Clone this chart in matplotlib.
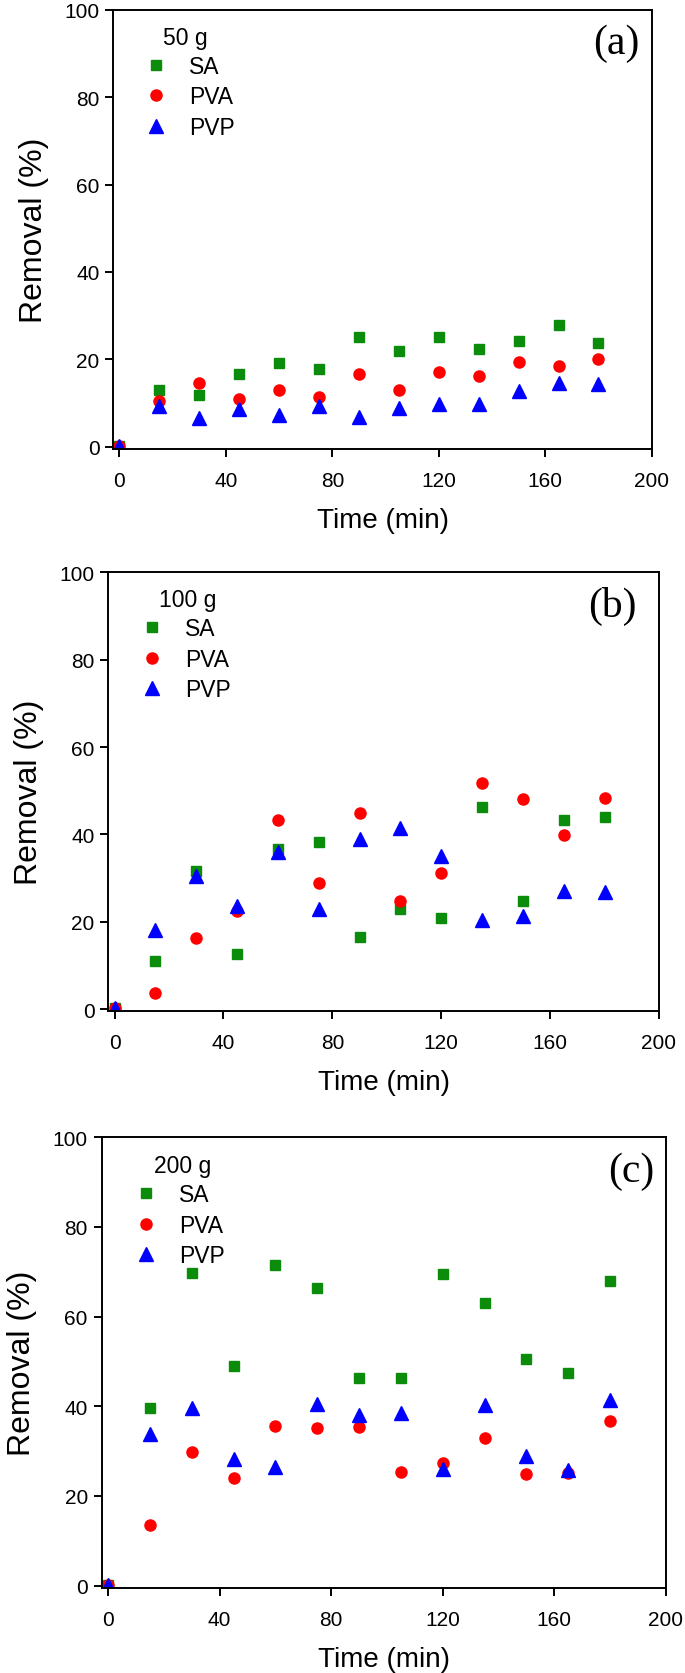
import matplotlib
matplotlib.use("Agg")
import matplotlib.pyplot as plt

plt.rcParams["font.family"] = ["Liberation Sans", "DejaVu Sans"]

# sampling times (min)
time = [0, 15, 30, 45, 60, 75, 90, 105, 120, 135, 150, 165, 180]

# panel (a) 50 g
sa_50 = [0.2, 12.9, 11.8, 16.6, 19.2, 17.9, 25.2, 22.0, 25.1, 22.3, 24.1, 27.9, 23.8]
pva_50 = [0.2, 10.4, 14.7, 10.9, 13.0, 11.4, 16.7, 13.0, 17.2, 16.3, 19.3, 18.4, 20.1]
pvp_50 = [0.2, 9.4, 6.5, 8.6, 7.3, 9.4, 6.9, 8.8, 9.7, 9.7, 12.7, 14.7, 14.3]

# panel (b) 100 g
sa_100 = [0.2, 11.1, 31.6, 12.7, 36.7, 38.2, 16.6, 23.0, 20.8, 46.3, 24.8, 43.4, 44.0]
pva_100 = [0.2, 3.6, 16.2, 22.5, 43.3, 28.8, 45.0, 24.8, 31.1, 51.8, 48.0, 39.9, 48.3]
pvp_100 = [0.2, 18.2, 30.5, 23.7, 36.0, 22.9, 39.0, 41.4, 35.1, 20.5, 21.3, 27.0, 26.7]

# panel (c) 200 g
sa_200 = [0.2, 39.6, 69.8, 49.0, 71.6, 66.4, 46.2, 46.2, 69.4, 63.1, 50.5, 47.5, 67.9]
pva_200 = [0.2, 13.6, 29.9, 23.9, 35.7, 35.2, 35.3, 25.3, 27.3, 33.0, 24.8, 25.0, 36.8]
pvp_200 = [0.2, 33.9, 39.7, 28.3, 26.4, 40.5, 38.1, 38.6, 26.0, 40.2, 28.9, 25.8, 41.5]

doses = ["50 g", "100 g", "200 g"]
letters = ["(a)", "(b)", "(c)"]
series = [
    (sa_50, pva_50, pvp_50),
    (sa_100, pva_100, pvp_100),
    (sa_200, pva_200, pvp_200),
]

boxes = [
    [0.1654, 0.7312, 0.7860, 0.2624],
    [0.1581, 0.3953, 0.8039, 0.2622],
    [0.1485, 0.0509, 0.8234, 0.2691],
]
letter_x = [0.934, 0.915, 0.938]

green = "#0b8c0b"
red = "#ff0000"
blue = "#0000ff"

fig = plt.figure(figsize=(6.85, 16.74), dpi=100)

for i in range(3):
    ax = fig.add_axes(boxes[i])
    sa, pva, pvp = series[i]
    ax.plot(time, sa, ls="none", marker="s", ms=7.3, color=green, label="SA")
    ax.plot(time, pva, ls="none", marker="o", ms=8, color=red, label="PVA")
    ax.plot(time, pvp, ls="none", marker="^", ms=9.5, color=blue, label="PVP")

    ax.set_xlim(-2.3, 200)
    ax.set_ylim(-0.5, 100)
    ax.set_xticks([0, 40, 80, 120, 160, 200])
    ax.set_yticks([0, 20, 40, 60, 80, 100])
    ax.tick_params(direction="out", length=6, width=1.4, labelsize=15,
                   top=False, right=False)
    ax.tick_params(axis="x", pad=10)
    ax.tick_params(axis="y", pad=4)
    for sp in ax.spines.values():
        sp.set_linewidth(1.4)

    ax.set_xlabel("Time (min)", fontsize=20, labelpad=12)
    ax.set_ylabel("Removal (%)", fontsize=23, labelpad=11)

    ax.text(0.092, 0.937, doses[i], transform=ax.transAxes,
            ha="left", va="center", fontsize=16.5)
    ax.legend(loc="upper left", bbox_to_anchor=(0.05, 0.908),
              frameon=False, fontsize=16.5, borderaxespad=0,
              handlelength=1.0, handletextpad=0.93, labelspacing=0.33,
              borderpad=0.2)

    ax.text(letter_x[i], 0.925, letters[i], transform=ax.transAxes,
            ha="center", va="center", fontsize=30,
            family=["Liberation Serif", "DejaVu Serif"])

fig.savefig("out.png", dpi=100)
